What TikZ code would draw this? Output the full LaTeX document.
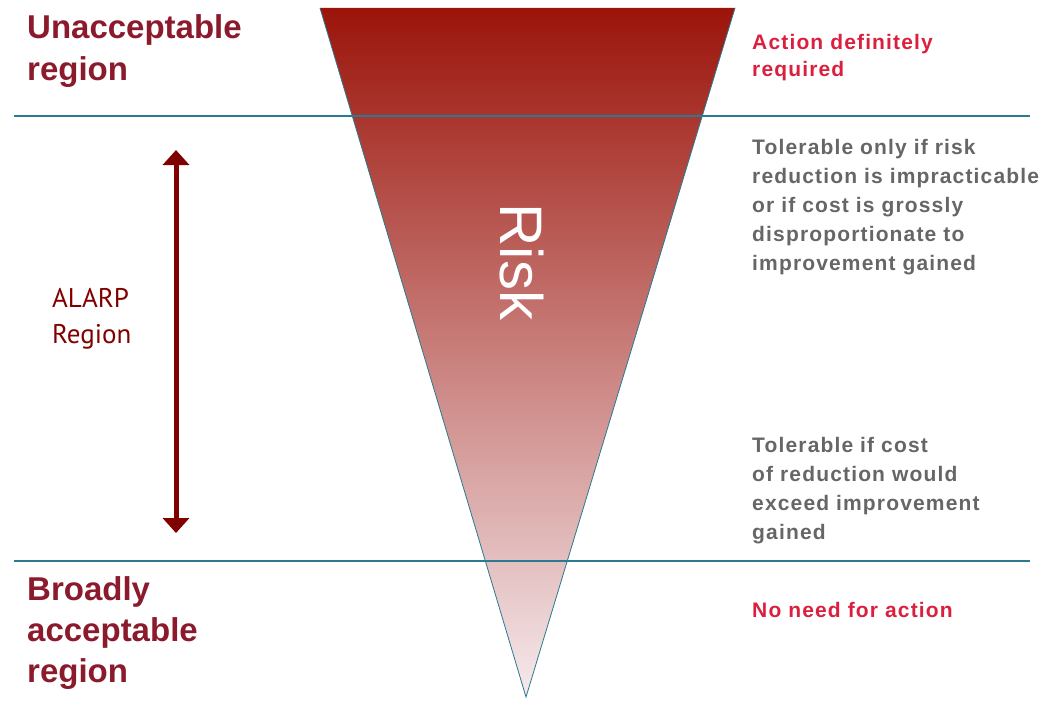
\documentclass[tikz,border=0pt]{standalone}
\usepackage{fontspec}
\setmainfont{Liberation Sans}
\newfontfamily\notefont[LetterSpace=5.5]{Liberation Sans}
\newfontfamily\alarpfont{PT Sans}
\usetikzlibrary{
  arrows.meta,
  positioning
}
\definecolor{riskdark}{RGB}{155,20,10}
\definecolor{riskmid}{RGB}{198,112,108}
\definecolor{risklight}{RGB}{246,234,237}
\definecolor{regionred}{RGB}{139,26,44}
\definecolor{actionred}{RGB}{218,32,62}
\definecolor{notegray}{RGB}{102,102,102}
\definecolor{alarpred}{RGB}{128,0,0}
\definecolor{bandline}{RGB}{42,122,146}
\tikzset{
  region label/.style={
    anchor=base west, align=left, inner sep=0pt, text=regionred,
    font=\fontsize{33}{41}\selectfont\bfseries
  },
  action label/.style={
    anchor=base west, align=left, inner sep=0pt, text=actionred,
    font=\notefont\fontsize{21}{27}\selectfont\bfseries
  },
  note label/.style={
    anchor=base west, align=left, inner sep=0pt, text=notegray,
    font=\notefont\fontsize{21}{29}\selectfont\bfseries
  },
  alarp label/.style={
    anchor=base west, align=left, inner sep=0pt, text=alarpred,
    font=\alarpfont\fontsize{27}{36}\selectfont
  },
  band line/.style={bandline, line width=2pt},
  risk edge/.style={bandline, line width=0.8pt}
}

\begin{document}
\begin{tikzpicture}[x=1pt,y=-1pt]
\useasboundingbox (0,0) rectangle (1048,701);
\coordinate (topleft) at (320,8);
\coordinate (topright) at (735,8);
\coordinate (apex) at (526,697);
\shade[top color=riskdark, middle color=riskmid, bottom color=risklight]
  (topleft) -- (topright) -- (apex) -- cycle;
\draw[risk edge] (topleft) -- (apex) -- (topright);
\node[rotate=-90, text=white, font=\fontsize{60}{60}\selectfont] (risk) at (522,262) {Risk};

% band boundaries
\coordinate (upperL) at (14,116);
\coordinate (upperR) at (1030,116);
\coordinate (lowerL) at (14,561);
\coordinate (lowerR) at (1030,561);
\draw[band line] (upperL) -- (upperR);
\draw[band line] (lowerL) -- (lowerR);

% labels sit on the baseline of their last line
\node[region label] (unacceptable) at (27,80) {Unacceptable\\region};
\node[region label] (broadly) at (27,682) {Broadly\\acceptable\\region};
\node[action label] (actionreq) at (752,76) {Action definitely\\required};
\node[note label] (tolonly) at (752,270) {Tolerable only if risk\\reduction is impracticable\\or if cost is grossly\\disproportionate to\\improvement gained};
\node[note label] (tolcost) at (752,539) {Tolerable if cost\\of reduction would\\exceed improvement\\gained};
\node[action label] (noneed) at (752,617) {No need for action};

% ALARP span
\coordinate (alarptop) at (176,150);
\coordinate (alarpbot) at (176,533);
\draw[alarpred, line width=5pt, {Triangle[width=26pt,length=15pt]}-{Triangle[width=26pt,length=15pt]}] (alarptop) -- (alarpbot);
\node[alarp label] (alarp) at (52,343) {ALARP\\Region};
\end{tikzpicture}
\end{document}
